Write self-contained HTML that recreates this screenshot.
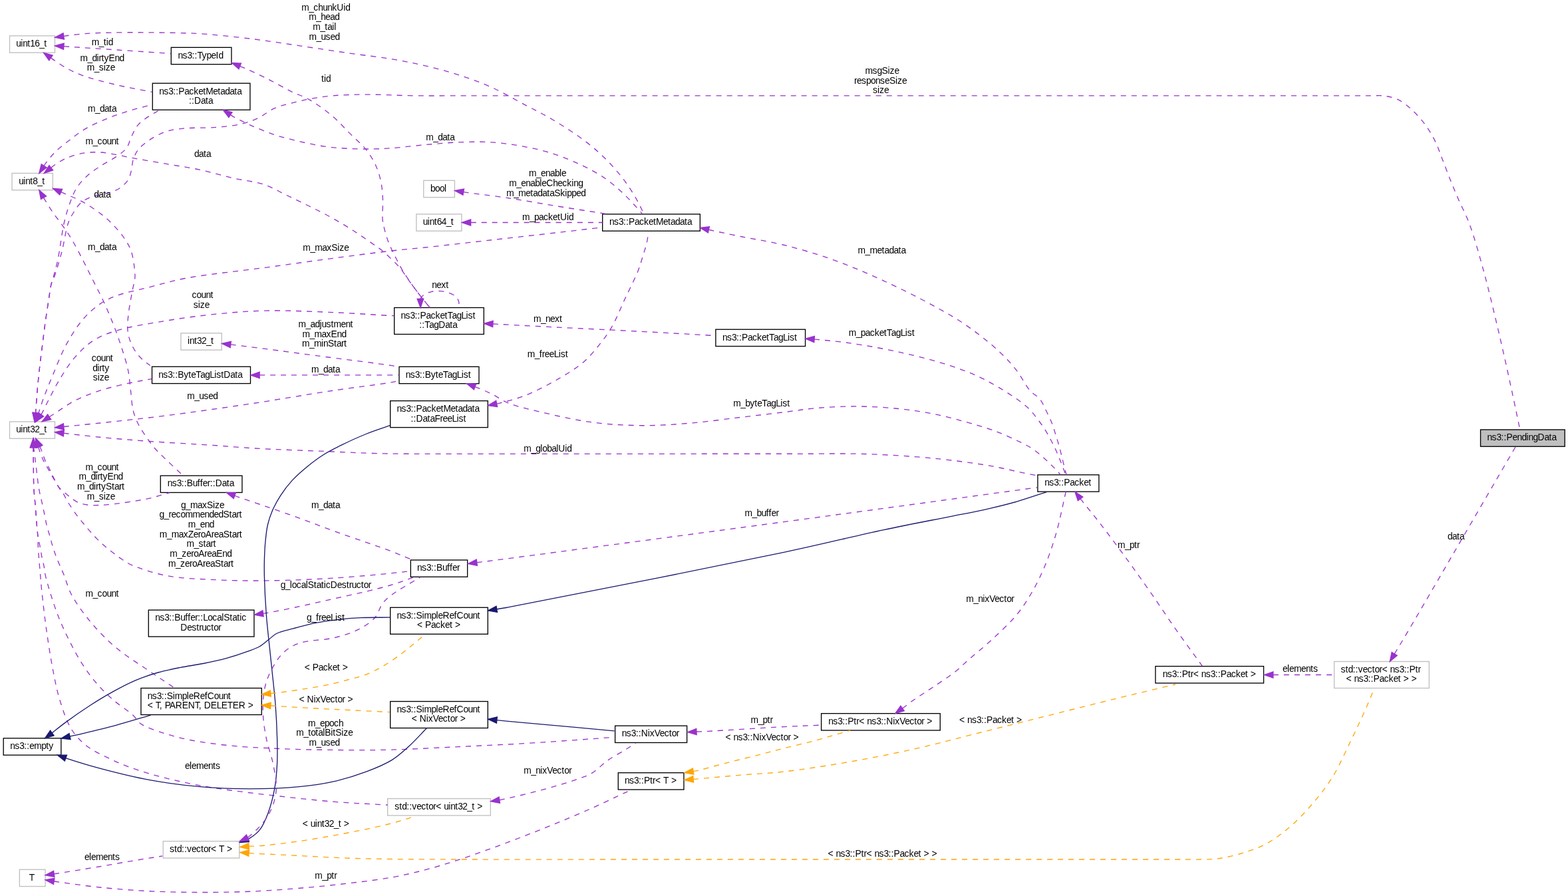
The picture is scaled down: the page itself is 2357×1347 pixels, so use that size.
<!DOCTYPE html>
<html><head><meta charset="utf-8"><title>ns3::PendingData</title>
<style>html,body{margin:0;padding:0;background:#fff}svg{display:block}text{font-family:"Liberation Sans",Arial,Helvetica,sans-serif;font-size:13.8px;fill:#000;white-space:pre}</style></head><body>
<svg xmlns="http://www.w3.org/2000/svg" width="2357" height="1347" viewBox="0 0 2357 1347">
<rect width="2357" height="1347" fill="#fff"/>
<rect x="14.5" y="53.83" width="68" height="25.33" fill="#fff" stroke="#bfbfbf" stroke-width="1.333"/>
<rect x="18.03" y="260.43" width="61.33" height="25.33" fill="#fff" stroke="#bfbfbf" stroke-width="1.333"/>
<rect x="14.5" y="633.93" width="68" height="25.33" fill="#fff" stroke="#bfbfbf" stroke-width="1.333"/>
<rect x="5.17" y="1109.83" width="86.67" height="25.33" fill="#fff" stroke="#000" stroke-width="1.333"/>
<rect x="29.37" y="1307.23" width="38.67" height="25.33" fill="#fff" stroke="#bfbfbf" stroke-width="1.333"/>
<rect x="257.27" y="71.33" width="90.67" height="25.33" fill="#fff" stroke="#000" stroke-width="1.333"/>
<rect x="229.27" y="125.2" width="146.67" height="40" fill="#fff" stroke="#000" stroke-width="1.333"/>
<rect x="271.93" y="500.83" width="61.33" height="25.33" fill="#fff" stroke="#bfbfbf" stroke-width="1.333"/>
<rect x="228.5" y="551.23" width="148" height="25.33" fill="#fff" stroke="#000" stroke-width="1.333"/>
<rect x="241.27" y="715.13" width="122.67" height="25.33" fill="#fff" stroke="#000" stroke-width="1.333"/>
<rect x="223.27" y="917.1" width="158.67" height="40" fill="#fff" stroke="#000" stroke-width="1.333"/>
<rect x="211.93" y="1034.5" width="181.33" height="40" fill="#fff" stroke="#000" stroke-width="1.333"/>
<rect x="245.17" y="1264.63" width="114.67" height="25.33" fill="#fff" stroke="#bfbfbf" stroke-width="1.333"/>
<rect x="636.77" y="271.33" width="46.67" height="25.33" fill="#fff" stroke="#bfbfbf" stroke-width="1.333"/>
<rect x="625.9" y="321.93" width="68" height="25.33" fill="#fff" stroke="#bfbfbf" stroke-width="1.333"/>
<rect x="592.67" y="462.5" width="134.67" height="40" fill="#fff" stroke="#000" stroke-width="1.333"/>
<rect x="600" y="551.33" width="120" height="25.33" fill="#fff" stroke="#000" stroke-width="1.333"/>
<rect x="586.67" y="602.6" width="146.67" height="40" fill="#fff" stroke="#000" stroke-width="1.333"/>
<rect x="617.33" y="841.93" width="85.33" height="25.33" fill="#fff" stroke="#000" stroke-width="1.333"/>
<rect x="586.67" y="913.3" width="146.67" height="40" fill="#fff" stroke="#000" stroke-width="1.333"/>
<rect x="586.67" y="1054.5" width="146.67" height="40" fill="#fff" stroke="#000" stroke-width="1.333"/>
<rect x="582.67" y="1200.63" width="154.67" height="25.33" fill="#fff" stroke="#bfbfbf" stroke-width="1.333"/>
<rect x="905.67" y="321.93" width="146.67" height="25.33" fill="#fff" stroke="#000" stroke-width="1.333"/>
<rect x="924.6" y="1091.13" width="108" height="25.33" fill="#fff" stroke="#000" stroke-width="1.333"/>
<rect x="929.27" y="1161.73" width="98.67" height="25.33" fill="#fff" stroke="#000" stroke-width="1.333"/>
<rect x="1075.87" y="495.23" width="134.67" height="25.33" fill="#fff" stroke="#000" stroke-width="1.333"/>
<rect x="1234.57" y="1072.63" width="178.67" height="25.33" fill="#fff" stroke="#000" stroke-width="1.333"/>
<rect x="1559.9" y="713.83" width="92" height="25.33" fill="#fff" stroke="#000" stroke-width="1.333"/>
<rect x="1736.87" y="1001.63" width="162.67" height="25.33" fill="#fff" stroke="#000" stroke-width="1.333"/>
<rect x="2005.57" y="994.5" width="142.67" height="40" fill="#fff" stroke="#bfbfbf" stroke-width="1.333"/>
<rect x="2225.52" y="645.93" width="126.67" height="25.33" fill="#bfbfbf" stroke="#000" stroke-width="1.333"/>
<path d="M95.87,69.69C113.96,70.89 129.01,71.88 150.13,73.3C179.77,75.3 221.35,78.14 256.97,80.56" fill="none" stroke="#9a32cd" stroke-width="1.333" stroke-dasharray="8,8"/>
<polygon fill="#9a32cd" stroke="#9a32cd" stroke-width="1.333" points="95.56,74.34 82.57,68.8 96.18,65.03"/>
<path d="M76.45,87C78.49,88.44 79.98,89.57 82.57,91.32C86.89,94.23 93.58,99.05 100.08,102.58C107.55,106.63 115.17,110.26 125.11,113.83C138.77,118.75 158.09,123.55 175.15,127.59C192.68,131.75 211.01,134.77 228.94,138.35" fill="none" stroke="#9a32cd" stroke-width="1.333" stroke-dasharray="8,8"/>
<polygon fill="#9a32cd" stroke="#9a32cd" stroke-width="1.333" points="73.76,90.81 65.56,79.31 79.14,83.18"/>
<path d="M95.77,54.38C97.78,54.08 99.09,53.85 101.8,53.5C107.36,52.78 117.93,51.32 127.3,50.6C138.74,49.73 151.85,49.41 165.5,49.1C181.25,48.74 199.43,48.73 216.4,48.8C233.37,48.87 252.2,49.14 267.3,49.5C279.4,49.79 286.88,49.73 300,50.6C319.96,51.92 350.27,55.01 375.32,58.04C400.39,61.08 425.37,65.13 450.38,68.8C475.41,72.47 501.46,76.61 525.45,80.06C547.5,83.23 569.13,85.46 589,88.82C606.72,91.81 622.43,94.88 639.04,98.82C655.79,102.8 672.52,107.21 689.08,112.58C705.89,118.03 722.67,123.98 739.13,131.35C756.05,138.93 773.26,149.18 789.17,157.62C803.73,165.34 816.51,171.38 830.9,180C847.25,189.8 866.9,202.34 881.8,213.9C894.68,223.9 905.63,233.93 915.8,244.5C925.27,254.35 933.87,264.88 941.2,275C947.79,284.1 953.54,293.88 958.2,302.2C961.96,308.92 964.4,314.67 967.5,320.9" fill="none" stroke="#9a32cd" stroke-width="1.333" stroke-dasharray="8,8"/>
<polygon fill="#9a32cd" stroke="#9a32cd" stroke-width="1.333" points="96.44,58.99 82.57,56.29 95.09,49.76"/>
<path d="M66.11,249.29C67.01,247.92 67.49,246.95 68.81,245.18C71.56,241.5 77.15,234.3 82.57,228.92C88.93,222.61 97.25,216.15 105.09,210.16C113.09,204.04 120.97,197.9 130.11,192.64C140.01,186.95 151.69,182.04 162.64,177.63C173.37,173.31 184.16,169.78 195.17,166.37C206.26,162.94 217.68,160.2 228.94,157.12" fill="none" stroke="#9a32cd" stroke-width="1.333" stroke-dasharray="8,8"/>
<polygon fill="#9a32cd" stroke="#9a32cd" stroke-width="1.333" points="70.01,251.85 58.8,260.44 62.21,246.73"/>
<path d="M76.8,252.21C78.72,250.7 80.04,249.38 82.57,247.68C86.76,244.87 93.55,240.48 100.08,237.68C107.52,234.49 116.68,231.62 125.11,230.17C133.36,228.75 141.81,228.51 150.13,228.92C158.49,229.33 166.83,231.22 175.15,232.67C183.51,234.13 190.39,235.84 200.17,237.68C213.98,240.26 233.53,243.51 250.21,246.43C266.89,249.35 283.64,251.66 300.25,255.19C317,258.74 333.87,263.94 350.3,267.7C366.1,271.31 382.93,272.67 397,277.4C409.48,281.59 419.59,288.08 430.9,293.5C442.26,298.95 453.69,304.36 465,310C476.33,315.65 487.85,321.33 498.8,327.4C509.5,333.34 519.8,339.5 530,346C540.2,352.5 551.81,360.7 560,366.4C565.76,370.41 570.04,373.1 574.6,376.8C579.02,380.38 582.9,384.27 587,388.2C591.2,392.23 595.76,396.4 599.5,400.7C603.01,404.75 605.82,408.92 608.9,413.2C612.05,417.58 615.04,422.33 618.2,426.7C621.28,430.96 624.38,434.87 627.6,439.1C630.97,443.53 634.68,448.57 638,452.7C640.88,456.27 643.53,459.23 646.3,462.5" fill="none" stroke="#9a32cd" stroke-width="1.333" stroke-dasharray="8,8"/>
<polygon fill="#9a32cd" stroke="#9a32cd" stroke-width="1.333" points="79.68,255.88 66.31,260.44 73.92,248.54"/>
<path d="M91.72,288.7C92.84,289.2 93.41,289.46 95.08,290.22C100.06,292.47 115.17,298.4 124.7,303.7C134.39,309.1 144.71,316.21 152.7,322.4C159.28,327.5 164.23,331.94 169.7,337.6C175.6,343.71 182.02,351.12 186.7,358C190.89,364.17 194.38,369.78 196.9,376.7C199.67,384.33 201.06,394.59 202,402.1C202.74,407.99 203.2,412.64 202.8,418C202.39,423.6 200.64,428.35 199.4,435C197.65,444.38 194.76,458.46 193.5,469C192.41,478.05 191.3,486.82 191.8,494.4C192.21,500.64 193.32,505.78 195.2,511.3C197.18,517.09 200.31,523.32 203.6,528.3C206.59,532.83 210.08,536.64 213.8,540.2C217.46,543.69 221.73,546.4 225.7,549.5" fill="none" stroke="#9a32cd" stroke-width="1.333" stroke-dasharray="8,8"/>
<polygon fill="#9a32cd" stroke="#9a32cd" stroke-width="1.333" points="89.8,292.95 79.57,283.21 93.64,284.44"/>
<path d="M65.56,297.2C66.64,299.04 67.37,300.39 68.81,302.72C71.4,306.94 76.11,314.53 80.07,320.24C84.03,325.96 88.3,330.94 92.58,337C97.44,343.89 102.59,351.19 107.59,359.52C113.43,369.24 119.57,381.38 125.11,392.04C130.38,402.21 135.11,412.06 140.12,422.06C145.12,432.07 150.28,441.62 155.13,452.09C160.31,463.24 165.53,475.36 170.14,487.11C174.7,498.72 178.89,510.4 182.66,522.14C186.38,533.75 190.35,545.85 192.66,557.16C194.77,567.47 195.17,577.18 196.42,587.19C197.67,597.19 197.98,608.33 200.17,617.21C202.01,624.67 204.46,630.71 207.68,637.22C211.06,644.07 215.88,650.95 220.19,657.24C224.24,663.16 227.96,668.52 232.7,674C237.86,679.96 243.8,685.3 250.21,691.51C257.76,698.83 266.89,707.19 275.23,715.03" fill="none" stroke="#9a32cd" stroke-width="1.333" stroke-dasharray="8,8"/>
<polygon fill="#9a32cd" stroke="#9a32cd" stroke-width="1.333" points="61.54,299.57 58.8,285.71 69.58,294.84"/>
<path d="M360.69,99.49C362.23,100.1 363.07,100.36 365.31,101.33C371.55,104.01 388.54,111.71 400.34,117.59C412.72,123.76 426.24,131.87 437.87,137.6C447.67,142.44 455.94,144.66 465.4,150.11C476.67,156.62 490.05,166.34 500.42,175.13C509.83,183.1 517.11,191.81 525.45,200.15C533.79,208.49 543.61,216.39 550.47,225.17C556.69,233.14 561.69,241.6 565.48,250.19C569.07,258.31 571.32,266.78 572.99,275.2C574.62,283.47 575.11,291.51 575.49,300.22C575.9,309.71 574.34,321.7 575.1,330C575.66,336.07 576.91,340.43 578.2,345.6C579.5,350.83 581.06,356.14 582.9,361.2C584.71,366.17 586.87,370.89 589.1,375.7C591.37,380.59 593.86,385.37 596.4,390.3C599.05,395.43 601.73,400.86 604.7,405.9C607.64,410.89 610.85,415.59 614.1,420.4C617.41,425.29 620.91,430.26 624.4,435C627.81,439.62 631.21,443.99 634.8,448.5C638.5,453.15 642.47,457.83 646.3,462.5" fill="none" stroke="#9a32cd" stroke-width="1.333" stroke-dasharray="8,8"/>
<polygon fill="#9a32cd" stroke="#9a32cd" stroke-width="1.333" points="358.97,103.83 348.3,94.57 362.41,95.15"/>
<path d="M346.46,172.64C347.74,173.47 348.42,174.05 350.3,175.13C354.95,177.79 366.04,183.47 375.32,187.64C386.47,192.65 400.21,198.45 412.85,202.65C425.24,206.76 437.83,209.73 450.38,212.66C462.85,215.56 475.35,218.37 487.91,220.16C500.38,221.94 512.92,222.79 525.45,223.42C537.95,224.04 551.61,224.11 562.98,223.92C572.45,223.75 578.93,223.41 589,222.67C602.99,221.63 622.35,219.12 639.04,217.66C655.71,216.2 672.39,214.53 689.08,213.91C705.75,213.28 722.83,212.85 739.13,213.91C754.81,214.93 769.86,217.09 785.1,219.9C800.46,222.74 816.09,226.18 830.9,230.9C845.48,235.55 860.12,241.66 873.3,247.9C885.45,253.65 897.05,259.76 907.3,266.6C916.68,272.86 925.24,280.23 932.7,286.9C939.11,292.64 944.25,298.16 949.7,303.9C955.01,309.5 959.9,315.23 965,320.9" fill="none" stroke="#9a32cd" stroke-width="1.333" stroke-dasharray="8,8"/>
<polygon fill="#9a32cd" stroke="#9a32cd" stroke-width="1.333" points="343.92,176.55 335.28,165.37 349.01,168.73"/>
<path d="M53.61,620.76C53.58,621.08 53.51,621.7 53.5,621.7C53.42,621.69 55.02,599.02 56,587.7C56.98,576.39 58.14,565.1 59.4,553.8C60.67,542.47 62.18,531.12 63.6,519.8C65.02,508.49 66.34,497.2 67.9,485.9C69.47,474.57 71.34,462.4 73,451.9C74.43,442.81 75.75,432.67 77.2,426.5C78.05,422.87 78.77,421.67 79.8,418C81.66,411.38 84.67,400.94 87,390C90.24,374.84 92.78,350.69 96.33,335.25C99,323.66 101.73,314.41 105.09,305.23C108.08,297.07 110.83,289.47 115.1,282.71C119.23,276.17 124.42,270.53 130.11,265.2C136.04,259.64 142.95,255.01 150.13,250.19C157.88,244.97 168.03,240.23 175.15,235.17C180.97,231.04 186.4,227.71 190.16,222.67C193.88,217.68 194.8,210.91 197.67,205.15C200.62,199.23 203.26,192.76 207.68,187.64C212.32,182.26 219.43,177.74 225.19,173.88C230.26,170.48 235.2,168.21 240.2,165.37" fill="none" stroke="#9a32cd" stroke-width="1.333" stroke-dasharray="8,8"/>
<polygon fill="#9a32cd" stroke="#9a32cd" stroke-width="1.333" points="58.25,621.33 52,634 48.98,620.2"/>
<path d="M53.59,620.73C53.56,621.05 53.51,621.7 53.5,621.7C53.46,621.7 55.02,599.02 56,587.7C56.98,576.39 58.14,565.1 59.4,553.8C60.67,542.47 62.18,531.12 63.6,519.8C65.02,508.49 66.34,497.2 67.9,485.9C69.47,474.57 71.34,462.4 73,451.9C74.43,442.81 75.36,432.62 77.2,426.5C78.31,422.82 79.53,421.94 81,418C84.11,409.65 89.43,391.62 93,378C96.65,364.05 98.87,345.69 102.59,335.25C104.89,328.79 106.99,325.19 110.09,320.24C113.53,314.76 117.52,308.17 122.6,303.98C127.57,299.88 133.76,297.48 140.12,295.22C147.02,292.77 155.7,292.45 162.64,290.22C168.94,288.18 175.08,286.14 180.15,282.71C185.04,279.4 189.73,274.95 192.66,270.2C195.44,265.71 196.41,260.24 197.67,255.19C198.9,250.23 198.58,245.07 200.17,240.18C201.84,235.05 204.03,229.83 207.68,225.17C211.95,219.7 218.53,214.58 225.19,210.16C232.53,205.28 241.66,200.49 250.21,197.65C258.36,194.94 265.42,194.19 275.23,193.14C289.01,191.67 309.82,192.69 325.28,191.39C338.71,190.26 351.68,189.05 362.81,186.39C372.12,184.16 379.68,181.45 387.83,177.63C396.38,173.62 404.27,166.41 412.85,162.62C420.97,159.03 429.29,157.37 437.87,155.12C446.79,152.77 455.63,150.66 465.4,148.86C476.33,146.84 487.68,144.99 500.42,143.86C515.59,142.51 532.42,142.2 550.47,142.11C571.74,141.99 596.01,143.49 620,143.8C645.73,144.13 667.33,143.88 700,143.9C751.66,143.93 826.6,143.9 900,143.9C989.9,143.9 1100,143.9 1200,143.9C1300,143.9 1400,143.9 1500,143.9C1600,143.9 1710.1,143.9 1800,143.9C1873.4,143.9 1952.81,143.9 2000,143.9C2025.84,143.9 2045.13,143.79 2060,143.9C2068.8,143.96 2074.03,143.21 2081,144.2C2088.17,145.22 2095.7,146.81 2102.43,150.11C2109.57,153.62 2116.06,159.24 2122.45,165.12C2129.47,171.57 2136.6,179.65 2142.48,187.64C2148.26,195.51 2153.27,204.15 2157.5,212.66C2161.56,220.84 2164.02,228.78 2167.51,237.68C2171.48,247.8 2175.78,259.6 2180.03,270.2C2184.13,280.44 2188.02,289.77 2192.54,300.22C2197.54,311.78 2203.48,322.21 2208.81,336.5C2216.07,355.95 2223.6,383.5 2230.09,407.05C2236.52,430.37 2242.09,454.16 2247.61,477.1C2252.92,499.16 2257.91,521.12 2262.63,542.15C2267.06,561.91 2271.3,581.65 2275.15,599.69C2278.55,615.69 2281.45,629.9 2284.6,645" fill="none" stroke="#9a32cd" stroke-width="1.333" stroke-dasharray="8,8"/>
<polygon fill="#9a32cd" stroke="#9a32cd" stroke-width="1.333" points="58.24,621.18 52.3,634 48.95,620.28"/>
<path d="M57.8,621.56C57.72,621.78 57.56,622.21 57.55,622.21C57.5,622.19 61.97,608.1 65.06,599.69C69.07,588.72 74.57,575.19 80.07,562.17C86.14,547.78 92.37,531.16 100.08,517.13C107.47,503.72 116.06,490.06 125.11,479.61C132.92,470.57 141.36,463.06 150.13,457.09C158.12,451.64 165.14,448.33 175.15,444.58C188.75,439.48 208.27,435.86 225.19,431.57C242.54,427.17 256.62,422.57 278,418.5C310.21,412.37 361.61,407.31 400.34,402.05C435.38,397.28 468.07,392.57 500.42,388.29C530.84,384.26 563.64,379.91 589,377.03C608.03,374.87 619.51,374.1 639.04,372.03C666.69,369.09 705.77,364.52 739.13,360.77C772.49,357.01 810.09,352.85 839.21,349.51C861.77,346.92 879.25,344.84 899.26,342.5" fill="none" stroke="#9a32cd" stroke-width="1.333" stroke-dasharray="8,8"/>
<polygon fill="#9a32cd" stroke="#9a32cd" stroke-width="1.333" points="62.15,623.24 53,634 53.45,619.88"/>
<path d="M61.83,623.21C62.07,622.88 62.21,622.78 62.55,622.21C64.02,619.8 68.7,609.64 72.56,602.2C77.53,592.63 83.54,580.33 90.08,569.67C96.84,558.64 104.1,546.85 112.6,537.15C120.84,527.74 129.77,518.78 140.12,512.13C150.59,505.4 161,501.51 175.15,497.12C195.2,490.89 225.12,486.28 250.21,482.11C275.17,477.95 300.21,474.6 325.28,472.1C350.26,469.61 373.51,467.65 400.34,467.1C431.29,466.45 468.09,468.28 500.42,469.6C530.86,470.84 579.5,474.33 589,474.6C590.82,474.65 591.17,474.6 592.25,474.6" fill="none" stroke="#9a32cd" stroke-width="1.333" stroke-dasharray="8,8"/>
<polygon fill="#9a32cd" stroke="#9a32cd" stroke-width="1.333" points="65.61,625.95 54,634 58.05,620.47"/>
<path d="M74.19,626.75C77.82,624.41 80.61,622.57 85.07,619.71C92.15,615.17 102.44,607.4 112.6,602.2C123.9,596.41 136.56,591.57 150.13,587.19C165.46,582.23 185.85,577.74 200.17,574.68C210.81,572.4 218.85,571.34 228.19,569.67" fill="none" stroke="#9a32cd" stroke-width="1.333" stroke-dasharray="8,8"/>
<polygon fill="#9a32cd" stroke="#9a32cd" stroke-width="1.333" points="76.73,630.67 63,634 71.66,622.84"/>
<path d="M95.84,641.4C97.25,641.26 97.89,641.19 100.08,640.98C107.61,640.22 130.59,638.05 150.13,635.97C177.77,633.03 215.02,629.15 250.21,624.71C289.62,619.74 333.65,613.45 375.32,607.2C417.05,600.94 462.29,592.93 500.42,587.19C532.47,582.36 573.91,577.53 589,574.68C594.25,573.68 596.01,573.01 599.51,572.17" fill="none" stroke="#9a32cd" stroke-width="1.333" stroke-dasharray="8,8"/>
<polygon fill="#9a32cd" stroke="#9a32cd" stroke-width="1.333" points="96.3,646.04 82.57,642.73 95.37,636.76"/>
<path d="M95.82,651.25C97.24,651.41 97.88,651.49 100.08,651.73C107.63,652.58 131.75,655.46 150.13,657.24C172.61,659.41 198.36,661.54 225.19,663.49C256.15,665.75 296.51,667.78 325.28,669.75C347.1,671.24 360.24,672.69 382.82,674C415.08,675.88 467.83,677.63 500.42,679C523.63,679.98 540.1,680.95 560,681.5C579.96,682.05 594.64,682.13 620,682.3C663.92,682.59 738.42,682.3 800,682.3C864.91,682.3 933.33,682.3 1000,682.3C1066.67,682.3 1144.77,682.24 1200,682.3C1239.05,682.34 1266.42,681.41 1300,682.5C1334.14,683.61 1370.74,685.87 1403.19,689.01C1432.33,691.83 1466.69,696.61 1485.9,699.8C1496.27,701.52 1501.78,702.92 1509.7,704.6C1517.64,706.28 1525.39,708.18 1533.5,709.9C1541.94,711.69 1550.77,713.37 1559.4,715.1" fill="none" stroke="#9a32cd" stroke-width="1.333" stroke-dasharray="8,8"/>
<polygon fill="#9a32cd" stroke="#9a32cd" stroke-width="1.333" points="95.29,655.88 82.57,649.73 96.35,646.61"/>
<path d="M59.72,671.34C60.38,672.73 60.91,673.62 61.7,675.5C63.27,679.21 65.73,687.22 68,692.4C70.03,697.02 72.38,700.88 74.5,705.2C76.65,709.58 78.45,713.98 80.8,718.5C83.34,723.4 86.05,729.47 89.3,733.5C92.04,736.89 95.79,739.34 98.4,741.6C100.33,743.27 101.34,744.26 103.5,745.9C106.9,748.48 112.3,753.01 117.1,755.2C121.66,757.29 126.46,758.27 131.5,759C136.89,759.78 142.53,759.65 148.5,759.5C155.18,759.33 162.32,758.59 169.7,757.8C177.82,756.93 186.37,755.77 195.2,754.4C204.81,752.9 215.25,751.34 225.19,749.06C235.25,746.74 245.21,743.38 255.22,740.55" fill="none" stroke="#9a32cd" stroke-width="1.333" stroke-dasharray="8,8"/>
<polygon fill="#9a32cd" stroke="#9a32cd" stroke-width="1.333" points="55.51,673.35 54,659.3 63.94,669.34"/>
<path d="M57.58,672C57.95,673.16 58.13,673.91 58.7,675.5C59.96,679.04 62.85,687.24 65.3,692.4C67.5,697.05 70.03,700.81 72.5,705.2C75.12,709.86 77.72,714.67 80.6,719.6C83.7,724.91 87.61,731.68 90.5,736C92.49,738.98 94.39,740.84 95.9,743.3C97.28,745.55 98,747.74 99.3,750.1C100.78,752.78 102.33,755.28 104.4,758.5C107.32,763.03 111.71,769.62 115.4,774.6C118.78,779.15 122.17,783.16 125.6,787.3C128.97,791.36 132.3,795.27 135.8,799.2C139.36,803.2 142.98,807.28 146.8,811.1C150.62,814.92 154.67,818.65 158.7,822.1C162.6,825.44 166.54,828.41 170.6,831.5C174.74,834.65 178.86,837.87 183.3,840.8C187.88,843.82 191.17,846.42 197.7,849.3C209.53,854.52 230.92,861.68 250.2,865.4C272.79,869.76 300.25,870.45 325.3,871.7C350.29,872.95 373.5,873.18 400.3,872.9C431.27,872.58 468.07,871.16 500.4,869.2C530.86,867.35 567.93,863.79 589,861.7C600.71,860.54 607.2,859.63 616.3,858.6" fill="none" stroke="#9a32cd" stroke-width="1.333" stroke-dasharray="8,8"/>
<polygon fill="#9a32cd" stroke="#9a32cd" stroke-width="1.333" points="53.13,673.42 53.5,659.3 62.02,670.57"/>
<path d="M50.51,672.63C50.51,672.42 50.48,672 50.5,672C50.66,671.99 53.76,698.12 55.2,709.4C56.39,718.71 57.12,727.02 58.5,734.9C59.71,741.81 61.39,747.74 62.8,754.2C64.22,760.71 65.69,767.5 67,773.8C68.21,779.64 69.06,785.31 70.4,790.7C71.65,795.75 73.3,800.3 74.7,805.2C76.13,810.2 77.36,815.35 78.9,820.4C80.46,825.51 82.15,830.71 84,835.7C85.82,840.6 87.89,845.38 89.9,850.1C91.86,854.71 93.65,858.23 95.9,863.7C99.24,871.81 101.92,883.56 107.6,894.2C114.77,907.62 126.41,923.41 137.6,936.7C148.92,950.13 161.21,962.56 175.2,974.3C190.19,986.88 209.68,998.66 225.2,1009.3C238.55,1018.46 250.2,1026.1 262.7,1034.5" fill="none" stroke="#9a32cd" stroke-width="1.333" stroke-dasharray="8,8"/>
<polygon fill="#9a32cd" stroke="#9a32cd" stroke-width="1.333" points="45.84,672.71 50.3,659.3 55.18,672.56"/>
<path d="M50,672.63C50,672.42 50,672 50,672C50.02,672 50.16,690.15 50.3,700C50.45,711.02 50.38,725.08 50.9,735C51.29,742.36 52.05,747.63 52.6,754.2C53.18,761.11 53.78,768.81 54.3,775.5C54.77,781.46 55.13,787.16 55.6,792.4C56.01,796.97 56.23,800.65 56.9,805.2C57.68,810.46 59.18,816.68 60.2,822.1C61.14,827.11 61.82,831.72 62.8,836.6C63.81,841.62 65.32,847.06 66.2,851.8C66.96,855.91 66.9,858.66 67.9,863.4C69.55,871.2 73.15,883.51 76.4,893.9C79.86,904.98 83.73,916.67 88.2,927.9C92.74,939.31 97.9,950.6 103.5,961.8C109.22,973.24 115.34,984.98 122.2,995.8C128.96,1006.46 136.28,1016.88 144.3,1026.3C152.14,1035.51 160.56,1043.73 169.7,1051.8C179.18,1060.17 192.83,1068.55 200.3,1075.5C205.22,1080.08 206.04,1084.18 211.5,1088C220.08,1094 237.02,1099.21 250,1103.4C262.7,1107.5 275.61,1110.43 288.5,1113C301.25,1115.55 314.07,1117.2 326.9,1118.8C339.7,1120.4 352.9,1121.64 365.4,1122.6C377.23,1123.51 387.38,1123.89 400,1124.5C415.22,1125.24 431.93,1126.09 450.4,1126.6C472.92,1127.22 501.43,1127.53 525.4,1127.6C547.47,1127.66 565.41,1127.72 589,1127.1C618.61,1126.32 655.74,1124.18 689.1,1122.6C722.47,1121.02 758.24,1119.4 789.2,1117.6C816.01,1116.04 840.67,1114.24 864.2,1112.6C885.13,1111.14 903.73,1109.73 923.5,1108.3" fill="none" stroke="#9a32cd" stroke-width="1.333" stroke-dasharray="8,8"/>
<polygon fill="#9a32cd" stroke="#9a32cd" stroke-width="1.333" points="45.33,672.6 50.1,659.3 54.66,672.67"/>
<path d="M50,672.63C50,672.42 50,672 50,672C50.01,672 50.16,690.15 50.3,700C50.45,711.02 50.38,725.08 50.9,735C51.29,742.36 52.05,747.63 52.6,754.2C53.18,761.11 53.78,768.81 54.3,775.5C54.77,781.46 55.13,787.16 55.6,792.4C56.01,796.97 56.61,800.63 56.9,805.2C57.23,810.44 57.03,816.46 57.3,822.1C57.57,827.76 58.07,833.58 58.5,839.1C58.91,844.34 59.28,848.36 59.8,854.4C60.55,863.18 61.31,874.18 62.6,886.7C64.4,904.14 67.16,928.54 70.1,949.2C73.01,969.64 76.65,992.21 80.1,1010C82.83,1024.05 84.86,1034.87 88.5,1047.5C92.35,1060.86 97.58,1077.24 102.9,1088C106.79,1095.86 110.33,1101.27 115.4,1107.2C120.78,1113.5 127.18,1119.3 134.6,1124.5C142.95,1130.35 153.78,1135.21 163.5,1139.9C173.02,1144.49 181.9,1148.47 192.3,1152.4C204.11,1156.87 217.91,1161.2 230.8,1164.9C243.55,1168.56 256.36,1171.61 269.2,1174.5C281.99,1177.38 294.84,1179.95 307.7,1182.2C320.51,1184.44 332.28,1186.09 346.2,1188C362.62,1190.26 379.28,1192.33 400,1194.7C428.28,1197.94 468.54,1202.57 500.4,1205.2C529.25,1207.58 555.47,1208.53 583,1210.2" fill="none" stroke="#9a32cd" stroke-width="1.333" stroke-dasharray="8,8"/>
<polygon fill="#9a32cd" stroke="#9a32cd" stroke-width="1.333" points="45.33,672.63 50,659.3 54.67,672.63"/>
<path d="M346.77,517.96C347.95,518.1 348.44,518.16 350.3,518.38C357.3,519.24 381.98,522.27 400.34,524.64C422.84,527.54 447.8,530.98 475.4,534.65C509.36,539.15 571.36,546.81 589,549.66C594.39,550.53 596.01,550.99 599.51,551.66" fill="none" stroke="#9a32cd" stroke-width="1.333" stroke-dasharray="8,8"/>
<polygon fill="#9a32cd" stroke="#9a32cd" stroke-width="1.333" points="346.22,522.6 333.53,516.38 347.33,513.33"/>
<path d="M390.15,563.92C410.23,563.92 425.83,563.92 450.38,563.92C489.01,563.92 549.8,563.92 599.51,563.92" fill="none" stroke="#9a32cd" stroke-width="1.333" stroke-dasharray="8,8"/>
<polygon fill="#9a32cd" stroke="#9a32cd" stroke-width="1.333" points="390.15,568.59 376.82,563.92 390.15,559.25"/>
<path d="M352.79,745.19C354.46,745.81 355.31,746.16 357.8,747.05C365.04,749.63 385.6,756.47 400.34,761.56C416.35,767.1 433.73,773.04 450.38,779.08C467.1,785.14 483.71,791.78 500.42,797.84C517.07,803.88 534.88,809.85 550.47,815.35C564.16,820.19 577.28,824.63 589,829.12C598.99,832.94 607.35,836.62 616.52,840.37" fill="none" stroke="#9a32cd" stroke-width="1.333" stroke-dasharray="8,8"/>
<polygon fill="#9a32cd" stroke="#9a32cd" stroke-width="1.333" points="351.16,749.57 340.29,740.55 354.41,740.82"/>
<path d="M395.53,922.35C397.13,922.13 397.9,922.1 400.34,921.68C408.24,920.35 433.72,915.22 450.38,911.68C467.08,908.13 483.74,904.17 500.42,900.42C517.11,896.67 534.9,892.93 550.47,889.16C564.18,885.84 576.77,882.85 589,879.15C600.37,875.71 610.69,871.65 621.53,867.89" fill="none" stroke="#9a32cd" stroke-width="1.333" stroke-dasharray="8,8"/>
<polygon fill="#9a32cd" stroke="#9a32cd" stroke-width="1.333" points="396.17,926.97 382.32,924.19 394.89,917.73"/>
<path d="M372.61,1261.31C373.52,1260.94 374.13,1260.91 375.32,1260.19C378.39,1258.32 386.02,1253.12 390.33,1247.68C395.49,1241.16 399.29,1232.04 402.84,1222.66C407.03,1211.6 410.56,1197.73 412.85,1185.13C415.11,1172.71 415.98,1160.13 416.6,1147.6C417.23,1135.11 416.94,1123.48 416.6,1110.07C416.22,1094.59 415.35,1076.7 414.1,1060.04C412.85,1043.34 410.66,1025.28 409.1,1010C407.77,997.07 406.67,987.15 405.34,974.22C403.78,958.94 401.64,941.46 400.34,924.19C398.94,905.7 397.79,881.88 397.4,866.7C397.15,856.76 397.18,850.38 397.4,842C397.63,833.32 397.97,824.32 398.8,815.5C399.63,806.65 400.49,797.26 402.4,789C404.14,781.45 406.35,774.88 409.4,767.8C412.7,760.14 416.95,752.27 421.8,744.8C426.91,736.94 433.01,728.97 439.5,721.9C445.98,714.84 453.05,708.69 460.7,702.4C468.87,695.69 478.16,688.67 487.2,683C495.84,677.58 504.15,673.58 513.7,668.9C524.54,663.58 536.99,657.85 549,653C561.12,648.11 573.73,644.13 586.1,639.7" fill="none" stroke="#191970" stroke-width="1.333"/>
<polygon fill="#191970" stroke="#191970" stroke-width="1.333" points="374.41,1265.62 360.31,1266.44 370.82,1257"/>
<path d="M372.42,1259.12C372.55,1259.06 372.61,1259.07 372.82,1258.93C374.24,1257.99 383.2,1250.02 387.83,1245.17C392.36,1240.42 396.68,1235.76 400.34,1230.16C404.26,1224.17 407.87,1217.37 410.35,1210.15C412.99,1202.44 415.05,1194.34 415.35,1185.13C415.72,1173.91 412.82,1160.03 410.35,1147.6C407.84,1135.01 402.85,1122.66 400.34,1110.07C397.86,1097.64 395.75,1085.08 395.34,1072.55C394.92,1060.06 395.57,1046.13 397.84,1035.02C399.74,1025.69 402.45,1018.33 406.6,1010C411.28,1000.57 417.68,989.06 425.36,981.73C432.48,974.93 440.17,970.38 450.38,966.72C463.82,961.89 485.09,962.89 500.42,959.21C513.99,955.96 527.05,952.19 537.96,946.7C547.54,941.88 556.62,936.24 562.98,929.19C568.82,922.71 570.69,912.78 575.49,906.67C579.54,901.51 582.95,898.77 589,894.16C598.97,886.58 617.36,876.65 631.54,867.89" fill="none" stroke="#9a32cd" stroke-width="1.333" stroke-dasharray="8,8"/>
<polygon fill="#9a32cd" stroke="#9a32cd" stroke-width="1.333" points="374.37,1263.36 360.31,1264.69 370.47,1254.88"/>
<path d="M78.35,1102C78.09,1102.19 77.57,1102.58 77.57,1102.57C77.53,1102.52 89.09,1093.05 96.7,1087.4C107.33,1079.52 123.1,1068.51 135.8,1060.3C147.38,1052.81 158.28,1046.19 169.7,1039.9C180.88,1033.74 192.13,1027.76 203.6,1022.9C214.78,1018.17 226.18,1014.27 237.6,1011C248.82,1007.79 260.16,1005.65 271.5,1003.4C282.8,1001.15 294.2,999.76 305.5,997.5C316.84,995.23 328.16,992.89 339.4,989.8C350.8,986.67 364.13,982.19 373.4,978.8C379.97,976.4 384.91,974.89 390,972C394.95,969.19 399.23,965.14 403.6,961.8C407.72,958.65 410.49,955.09 415.5,952.5C422.14,949.07 431.79,947.4 440.9,944.9C451.38,942.02 463.52,938.67 474.9,936.4C486.15,934.15 497.48,932.58 508.8,931.3C520.08,930.02 530.68,929.23 542.7,928.7C556.31,928.1 571.77,928.37 586.3,928.2" fill="none" stroke="#191970" stroke-width="1.333"/>
<polygon fill="#191970" stroke="#191970" stroke-width="1.333" points="81.09,1105.78 67.56,1109.82 75.61,1098.22"/>
<path d="M105.08,1107.12C111.76,1105.6 116.94,1104.52 125.11,1102.57C138.05,1099.48 158.41,1094.6 175.15,1090.06C192.19,1085.44 209.34,1080.05 226.44,1075.05" fill="none" stroke="#191970" stroke-width="1.333"/>
<polygon fill="#191970" stroke="#191970" stroke-width="1.333" points="106.11,1111.67 92.08,1110.07 104.05,1102.57"/>
<path d="M98.85,1139.65C99.26,1139.8 99.37,1139.86 100.08,1140.1C104.6,1141.59 131.68,1150.19 150.13,1155.11C172.54,1161.08 200.06,1168.02 225.19,1172.62C250.1,1177.18 275.18,1180.42 300.25,1182.63C325.23,1184.83 350.3,1185.88 375.32,1185.88C400.34,1185.88 427.94,1184.79 450.38,1182.63C468.8,1180.85 483.88,1178.83 500.42,1175.12C517.24,1171.36 535.06,1165.9 550.47,1160.11C564.34,1154.91 577.9,1149.41 589,1142.6C598.66,1136.67 605.71,1130.09 614.02,1122.58C623.23,1114.27 632.37,1103.9 641.54,1094.56" fill="none" stroke="#191970" stroke-width="1.333"/>
<polygon fill="#191970" stroke="#191970" stroke-width="1.333" points="97.26,1144.03 86.32,1135.09 100.45,1135.26"/>
<path d="M406.86,1042.57C407.48,1042.51 407.79,1042.49 408.7,1042.4C411.31,1042.13 417.84,1041.49 423.9,1040.7C432.99,1039.51 446.59,1037.43 457.9,1035.6C469.22,1033.77 480.53,1032.09 491.8,1029.7C503.17,1027.29 515.32,1024.08 525.8,1021.2C534.91,1018.7 542.86,1016.89 551.2,1013.6C559.84,1010.18 568.36,1005.74 576.7,1000.9C585.34,995.89 594.58,989.41 602.1,983.9C608.44,979.25 613.6,974.78 619.1,970.3C624.35,966.02 629.3,961.83 634.4,957.6" fill="none" stroke="#ffa500" stroke-width="1.333" stroke-dasharray="8,8"/>
<polygon fill="#ffa500" stroke="#ffa500" stroke-width="1.333" points="407.29,1047.21 393.58,1043.78 406.44,1037.92"/>
<path d="M406.89,1060.9C408.88,1061.03 409.81,1061.1 412.85,1061.29C422.69,1061.9 455.71,1063.96 475.4,1065.04C493.01,1066.01 508.01,1066.67 525.45,1067.54C544.55,1068.5 565.48,1069.54 585.5,1070.54" fill="none" stroke="#ffa500" stroke-width="1.333" stroke-dasharray="8,8"/>
<polygon fill="#ffa500" stroke="#ffa500" stroke-width="1.333" points="406.59,1065.56 393.58,1060.04 407.19,1056.24"/>
<path d="M374.09,1272.3C374.5,1272.27 374.68,1272.23 375.32,1272.19C377.51,1272.06 383.51,1272.19 390,1271.7C402.91,1270.72 428.5,1267.63 447.7,1264.9C466.97,1262.16 486.19,1258.81 505.4,1255.3C524.66,1251.78 545.86,1247.67 563.1,1243.8C577.24,1240.63 590.37,1237.44 601.5,1234.2C610.23,1231.66 616.9,1229.07 624.6,1226.5" fill="none" stroke="#ffa500" stroke-width="1.333" stroke-dasharray="8,8"/>
<polygon fill="#ffa500" stroke="#ffa500" stroke-width="1.333" points="374.49,1276.95 360.81,1273.45 373.69,1267.65"/>
<path d="M374.09,1282.6C374.5,1282.63 374.59,1282.65 375.32,1282.7C380.99,1283.09 425.36,1285.2 450.38,1286.46C475.4,1287.71 501.46,1289.37 525.45,1290.21C547.51,1290.98 564.88,1291.16 589,1291.46C620.87,1291.85 653.99,1291.89 700,1292C775.64,1292.18 900,1292 1000,1292C1100,1292 1200,1292 1300,1292C1400,1292 1514.54,1292 1600,1292C1663.76,1292 1731.19,1292.02 1767,1292C1783.98,1291.99 1793.3,1292.19 1804.55,1291.96C1813.74,1291.77 1820.45,1292.14 1829.58,1290.96C1840.89,1289.5 1854.77,1286.5 1867.13,1282.7C1879.81,1278.8 1892.57,1274.41 1904.68,1267.69C1917.66,1260.49 1930.18,1250.84 1942.22,1240.17C1955.3,1228.59 1968.9,1213.4 1979.77,1200.14C1989.4,1188.4 1996.94,1178.17 2004.8,1165.12C2013.77,1150.23 2022.04,1131.12 2029.83,1115.08C2036.97,1100.37 2043.65,1086.38 2049.86,1072.55C2055.69,1059.57 2060.71,1047.19 2066.13,1034.52" fill="none" stroke="#ffa500" stroke-width="1.333" stroke-dasharray="8,8"/>
<polygon fill="#ffa500" stroke="#ffa500" stroke-width="1.333" points="373.69,1287.25 360.81,1281.45 374.49,1277.95"/>
<path d="M81.25,1313.79C82.52,1313.6 83.02,1313.54 85.07,1313.22C93.54,1311.92 129.87,1306.12 150.13,1302.72C167.91,1299.73 184.01,1296.66 200.17,1293.96C215.31,1291.43 229.53,1289.29 244.21,1286.96" fill="none" stroke="#9a32cd" stroke-width="1.333" stroke-dasharray="8,8"/>
<polygon fill="#9a32cd" stroke="#9a32cd" stroke-width="1.333" points="81.93,1318.4 68.06,1315.73 80.57,1309.17"/>
<path d="M81.22,1324.86C82.5,1325.07 83,1325.18 85.07,1325.48C93.56,1326.72 127.63,1331.66 150.13,1333.99C174.22,1336.49 200.15,1338.49 225.19,1339.74C250.2,1340.99 275.23,1341.41 300.25,1341.5C325.28,1341.58 350.31,1341.29 375.32,1340.24C400.35,1339.2 425.38,1337.32 450.38,1335.24C475.42,1333.16 501.49,1330.58 525.45,1327.74C547.54,1325.11 569.15,1322.57 589,1318.98C606.75,1315.77 622.44,1312.07 639.04,1307.72C655.8,1303.33 672.46,1298.11 689.08,1292.71C705.83,1287.27 722.48,1281.23 739.13,1275.2C755.84,1269.14 772.52,1262.88 789.17,1256.43C805.89,1249.96 822.57,1243.28 839.21,1236.42C855.93,1229.52 873.83,1222.03 889.25,1215.15C902.72,1209.15 915.87,1202.74 926.79,1197.64C935.25,1193.69 941.8,1190.63 949.31,1187.13" fill="none" stroke="#9a32cd" stroke-width="1.333" stroke-dasharray="8,8"/>
<polygon fill="#9a32cd" stroke="#9a32cd" stroke-width="1.333" points="80.47,1329.47 68.06,1322.73 81.97,1320.25"/>
<path d="M696.73,288.65C698.35,288.92 699.06,289.09 701.6,289.46C710.68,290.82 742.38,294.47 764.15,297.72C788.06,301.29 814.5,306.22 839.21,310.23C863.28,314.14 886.75,317.74 910.52,321.49" fill="none" stroke="#9a32cd" stroke-width="1.333" stroke-dasharray="8,8"/>
<polygon fill="#9a32cd" stroke="#9a32cd" stroke-width="1.333" points="695.97,293.26 683.58,286.46 697.5,284.05"/>
<path d="M707.67,334.5C734.84,334.5 759.59,334.5 789.17,334.5C824.51,334.5 866.74,334.5 905.52,334.5" fill="none" stroke="#9a32cd" stroke-width="1.333" stroke-dasharray="8,8"/>
<polygon fill="#9a32cd" stroke="#9a32cd" stroke-width="1.333" points="707.67,339.16 694.34,334.5 707.67,329.83"/>
<path d="M740.94,486.97C742,487.01 742.33,487.02 744.13,487.11C753.95,487.59 805.35,490.38 839.21,492.12C878.06,494.11 923.83,496.22 964.32,498.37C1002.52,500.4 1038.55,502.54 1075.66,504.62" fill="none" stroke="#9a32cd" stroke-width="1.333" stroke-dasharray="8,8"/>
<polygon fill="#9a32cd" stroke="#9a32cd" stroke-width="1.333" points="740.73,491.63 727.62,486.36 741.15,482.3"/>
<path d="M746.68,606.98C748.33,606.64 749.23,606.56 751.64,605.95C758.33,604.25 776,599.91 789.17,594.69C804.91,588.45 823.98,578.51 839.21,569.67C852.89,561.74 865.98,553.92 876.74,544.65C886.52,536.24 894.42,526.32 901.77,517.13C908.42,508.81 913.65,501.83 919.28,492.12C926.27,480.06 932.66,463.74 939.3,449.58C945.9,435.5 954.2,419.58 959,407.4C962.51,398.49 964.43,390.96 966.7,383.7C968.61,377.58 970.4,372.58 971.8,366.7C973.27,360.54 974.07,353.9 975.2,347.5" fill="none" stroke="#9a32cd" stroke-width="1.333" stroke-dasharray="8,8"/>
<polygon fill="#9a32cd" stroke="#9a32cd" stroke-width="1.333" points="747.63,611.55 733.62,609.7 745.72,602.41"/>
<path d="M714.04,581.48C715.73,582.13 716.87,582.51 719.11,583.43C723.59,585.28 732.16,588.76 739.13,592.19C747.09,596.11 754.09,601.87 764.15,605.95C777.71,611.45 795.74,615.33 814.19,619.71C836.6,625.02 864.12,631.38 889.25,634.72C914.17,638.03 939.29,639.52 964.32,639.72C989.33,639.93 1014.4,638.05 1039.38,635.97C1064.44,633.89 1090.47,630.03 1114.45,627.22C1136.51,624.63 1158.08,622.13 1178,619.71C1195.68,617.56 1210.4,614.91 1228.04,613.46C1247.7,611.84 1269.75,610.75 1290.6,610.95C1311.45,611.16 1333.5,612.65 1353.15,614.71C1370.8,616.56 1386.59,618.9 1403.19,622.21C1419.95,625.56 1438.59,630.7 1453.23,634.72C1464.83,637.91 1475.09,640.99 1484.2,644C1491.52,646.42 1497.01,648.34 1503.8,651.1C1511.38,654.18 1520.07,658.27 1527.5,661.8C1534.22,664.99 1540.5,667.69 1546.5,671.3C1552.39,674.84 1558.22,679.19 1563.2,683.2C1567.59,686.73 1571.31,690.4 1575,693.9C1578.4,697.12 1581.44,700.16 1584.6,703.4C1587.8,706.69 1590.93,710.13 1594.1,713.5" fill="none" stroke="#9a32cd" stroke-width="1.333" stroke-dasharray="8,8"/>
<polygon fill="#9a32cd" stroke="#9a32cd" stroke-width="1.333" points="712.36,585.83 701.6,576.68 715.72,577.12"/>
<path d="M1065.41,345.38C1066.75,345.67 1067.35,345.81 1069.41,346.26C1076.3,347.74 1098.13,352.44 1114.45,355.76C1133.8,359.71 1156.07,362.84 1178,368.27C1202.12,374.25 1228.27,381.93 1253.06,390.79C1278.32,399.81 1303.3,410.7 1328.13,422.06C1353.35,433.61 1380.91,447.36 1403.19,459.59C1421.77,469.79 1436.93,478.27 1453.23,489.61C1470.32,501.49 1489.85,517.04 1503.28,529.64C1513.51,539.25 1520.75,547.49 1528.3,557.16C1535.74,566.69 1541.61,579.61 1548.31,587.19C1553.26,592.78 1559.15,594.94 1563.2,600C1567.3,605.13 1569.72,611.83 1572.7,617.8C1575.64,623.69 1578.62,629.59 1581,635.6C1583.33,641.49 1584.97,647.34 1586.9,653.5C1588.94,660.02 1591.09,667.05 1592.9,673.7C1594.64,680.11 1596.13,686.83 1597.6,692.7C1598.87,697.78 1600.19,703.07 1601.2,706.9C1601.89,709.52 1602.4,711.3 1603,713.5" fill="none" stroke="#9a32cd" stroke-width="1.333" stroke-dasharray="8,8"/>
<polygon fill="#9a32cd" stroke="#9a32cd" stroke-width="1.333" points="1064.41,349.93 1052.39,342.5 1066.42,340.82"/>
<path d="M1224.08,510.09C1225.4,510.19 1225.98,510.19 1228.04,510.38C1235.37,511.05 1259.77,513.2 1278.08,515.88C1300.63,519.18 1328.24,524.05 1353.15,529.64C1378.28,535.29 1405.92,542.26 1428.21,549.66C1446.78,555.82 1461.86,561.53 1478.25,569.67C1495.39,578.18 1516.38,591.4 1528.7,600C1536.38,605.35 1541.37,609.28 1546.5,614.3C1551.12,618.83 1554.53,623.5 1558.4,628.5C1562.47,633.74 1566.69,639.46 1570.3,645.1C1573.8,650.57 1576.93,656.42 1579.8,661.8C1582.41,666.69 1584.71,671.22 1586.9,676C1589.07,680.72 1591.04,685.74 1592.9,690.3C1594.59,694.44 1596.1,698.28 1597.6,702.2C1599.06,706.01 1600.4,709.73 1601.8,713.5" fill="none" stroke="#9a32cd" stroke-width="1.333" stroke-dasharray="8,8"/>
<polygon fill="#9a32cd" stroke="#9a32cd" stroke-width="1.333" points="1223.74,514.75 1210.78,509.13 1224.41,505.44"/>
<path d="M716.82,845.7C724.26,844.76 727,844.45 739.13,842.88C792.95,835.89 1036.86,803.54 1178,784.58C1309.59,766.91 1432.22,750.06 1559.32,732.79" fill="none" stroke="#9a32cd" stroke-width="1.333" stroke-dasharray="8,8"/>
<polygon fill="#9a32cd" stroke="#9a32cd" stroke-width="1.333" points="717.41,850.33 703.6,847.38 716.24,841.07"/>
<path d="M746.78,915.77C752.57,914.83 754.56,914.67 764.15,912.93C811.08,904.4 1074.39,852.35 1178,830.37C1240.56,817.09 1283.09,806.16 1328.13,796.59C1364.81,788.8 1400.57,782.1 1428.21,776.58C1447.76,772.67 1461.62,770.31 1478.25,766.57C1494.98,762.81 1512.13,758.68 1528.3,754.06C1543.78,749.63 1558.32,744.39 1573.34,739.55" fill="none" stroke="#191970" stroke-width="1.333"/>
<polygon fill="#191970" stroke="#191970" stroke-width="1.333" points="747.54,920.38 733.62,917.93 746.03,911.17"/>
<path d="M746.89,1082.61C752.64,1083.17 755.49,1083.49 764.15,1084.31C790.45,1086.8 870.41,1093.98 923.53,1098.82" fill="none" stroke="#191970" stroke-width="1.333"/>
<polygon fill="#191970" stroke="#191970" stroke-width="1.333" points="746.44,1087.25 733.62,1081.3 747.35,1077.96"/>
<path d="M1046.95,1100.03C1052.77,1099.79 1056.05,1099.73 1064.4,1099.32C1085.73,1098.25 1146.71,1094.19 1178,1092.56C1200.02,1091.42 1215.53,1090.89 1234.3,1090.06" fill="none" stroke="#9a32cd" stroke-width="1.333" stroke-dasharray="8,8"/>
<polygon fill="#9a32cd" stroke="#9a32cd" stroke-width="1.333" points="1047.14,1104.69 1033.63,1100.57 1046.76,1095.36"/>
<path d="M750.81,1202.65C751.92,1202.48 752.36,1202.49 754.14,1202.14C761.78,1200.64 795.15,1192.78 814.19,1187.63C831.7,1182.89 850.5,1177.42 864.23,1172.62C874.1,1169.18 881.25,1167.28 889.25,1162.61C897.99,1157.52 905.73,1148.54 914.28,1142.6C922.43,1136.93 931.89,1132.2 939.3,1127.59C945.33,1123.83 950.14,1120.58 955.56,1117.08" fill="none" stroke="#9a32cd" stroke-width="1.333" stroke-dasharray="8,8"/>
<polygon fill="#9a32cd" stroke="#9a32cd" stroke-width="1.333" points="751.51,1207.26 737.63,1204.64 750.11,1198.03"/>
<path d="M1042.05,1159.6C1043.67,1159.35 1044.5,1159.36 1046.89,1158.86C1054.06,1157.37 1074.66,1151.4 1089.42,1147.6C1105.41,1143.49 1123.88,1139.06 1139.47,1135.09C1153.16,1131.6 1164.31,1128.57 1178,1125.09C1193.58,1121.11 1211.4,1117.07 1228.04,1112.58C1244.77,1108.06 1261.4,1102.9 1278.08,1098.07" fill="none" stroke="#ffa500" stroke-width="1.333" stroke-dasharray="8,8"/>
<polygon fill="#ffa500" stroke="#ffa500" stroke-width="1.333" points="1042.76,1164.21 1028.87,1161.61 1041.35,1154.99"/>
<path d="M1042.16,1171.51C1043.74,1171.38 1044.4,1171.33 1046.89,1171.12C1056.31,1170.31 1092.27,1166.97 1114.45,1165.12C1135.95,1163.31 1154.47,1162.8 1178,1160.11C1207.64,1156.73 1244.79,1150.92 1278.08,1145.1C1311.52,1139.25 1344.9,1132.57 1378.17,1125.09C1411.62,1117.56 1444.89,1108.41 1478.25,1100.07C1511.62,1091.73 1544.98,1083.39 1578.34,1075.05C1611.7,1066.71 1646.06,1057.96 1678.42,1050.03C1708.83,1042.58 1737.47,1035.85 1767,1028.76" fill="none" stroke="#ffa500" stroke-width="1.333" stroke-dasharray="8,8"/>
<polygon fill="#ffa500" stroke="#ffa500" stroke-width="1.333" points="1042.55,1176.16 1028.87,1172.62 1041.77,1166.86"/>
<path d="M1624.08,749.81C1625.51,751.64 1626.34,752.73 1628.38,755.31C1633.26,761.48 1644.32,774.86 1653.4,786.58C1664.75,801.23 1678.52,819.66 1690.94,836.62C1703.55,853.85 1715.96,871.28 1728.47,889.16C1741.32,907.54 1753.92,926.83 1767,945.45C1780.11,964.11 1793.7,982.48 1807.05,1000.99" fill="none" stroke="#9a32cd" stroke-width="1.333" stroke-dasharray="8,8"/>
<polygon fill="#9a32cd" stroke="#9a32cd" stroke-width="1.333" points="1620.4,752.68 1615.87,739.3 1627.76,746.93"/>
<path d="M1356.57,1064.9C1357.09,1064.53 1357.36,1064.36 1358.15,1063.79C1360.62,1062.01 1367.23,1056.73 1373.17,1052.53C1381.39,1046.71 1393.01,1039.43 1403.19,1032.52C1413.85,1025.28 1426.73,1017.11 1435.72,1010C1442.66,1004.51 1446.26,1000.39 1453.23,994.24C1463.36,985.3 1478.46,973.17 1490.77,961.71C1503.49,949.87 1517.59,937.25 1528.3,924.19C1538.17,912.15 1545.87,899.85 1553.32,886.66C1560.92,873.19 1567.51,858.68 1573.34,844.13C1579.19,829.5 1584.12,813.98 1588.35,799.09C1592.4,784.81 1595.86,767.6 1598.36,756.56C1599.95,749.54 1600.86,745.05 1602.11,739.3" fill="none" stroke="#9a32cd" stroke-width="1.333" stroke-dasharray="8,8"/>
<polygon fill="#9a32cd" stroke="#9a32cd" stroke-width="1.333" points="1359.24,1068.72 1345.64,1072.55 1353.89,1061.08"/>
<path d="M2096.1,982.99C2100.73,975.33 2102.88,971.99 2110,960C2135.1,917.75 2222,768 2278,672" fill="none" stroke="#9a32cd" stroke-width="1.333" stroke-dasharray="8,8"/>
<polygon fill="#9a32cd" stroke="#9a32cd" stroke-width="1.333" points="2100.09,985.4 2089.2,994.4 2092.11,980.58"/>
<path d="M1913.83,1014.5C1919.22,1014.5 1922.64,1014.5 1930,1014.5C1945.85,1014.5 1980,1014.5 2005,1014.5" fill="none" stroke="#9a32cd" stroke-width="1.333" stroke-dasharray="8,8"/>
<polygon fill="#9a32cd" stroke="#9a32cd" stroke-width="1.333" points="1913.83,1019.17 1900.5,1014.5 1913.83,1009.83"/>
<path d="M631.81,449.17C631.77,449.28 631.67,449.48 631.7,449.5C631.86,449.59 634.56,445.01 636.9,443.3C639.8,441.18 644.33,439.56 648.4,438.6C652.65,437.6 657.52,437.31 661.9,437.6C666.14,437.88 670.43,438.85 674.3,440.2C678.01,441.49 682.12,443.09 684.7,445.4C686.93,447.4 688.52,450.07 689.4,452.7C690.26,455.28 689.8,458.23 690,461" fill="none" stroke="#9a32cd" stroke-width="1.333" stroke-dasharray="8,8"/>
<polygon fill="#9a32cd" stroke="#9a32cd" stroke-width="1.333" points="636.47,449.03 632.2,462.5 627.14,449.31"/>
<g style="will-change:transform;filter:grayscale(1)">
<text x="24.34 31.34 34.34 41.34 45.34 52.34 59.34 66.34" y="70">uint16_t</text>
<text x="28.14 35.14 38.14 45.14 49.14 56.14 63.14" y="277">uint8_t</text>
<text x="24.34 31.34 34.34 41.34 45.34 52.34 59.34 66.34" y="650">uint32_t</text>
<text x="15.15 22.15 29.15 36.15 40.15 44.15 51.15 62.15 69.15 73.15" y="1126">ns3::empty</text>
<text x="43.86" y="1324">T</text>
<text x="267.38 274.38 281.38 288.38 292.38 296.38 303.38 310.38 317.38 324.38 328.38" y="88">ns3::TypeId</text>
<text x="239.13 246.13 253.13 260.13 264.13 268.13 277.13 284.13 291.13 298.13 305.13 309.13 320.13 327.13 331.13 338.13 345.13 352.13 356.13" y="142">ns3::PacketMetadata</text>
<text x="283.91 287.91 291.91 301.91 308.91 312.91" y="156">::Data</text>
<text x="282.04 285.04 292.04 296.04 303.04 310.04 317.04" y="517">int32_t</text>
<text x="238.33 245.33 252.33 259.33 263.33 267.33 276.33 283.33 287.33 294.33 301.33 308.33 315.33 322.33 325.33 332.33 336.33 346.33 353.33 357.33" y="568">ns3::ByteTagListData</text>
<text x="251.79 258.79 265.79 272.79 276.79 280.79 289.79 296.79 300.79 304.79 311.79 315.79 319.79 323.79 333.79 340.79 344.79" y="731">ns3::Buffer::Data</text>
<text x="233.13 240.13 247.13 254.13 258.13 262.13 271.13 278.13 282.13 286.13 293.13 297.13 301.13 305.13 312.13 319.13 326.13 333.13 336.13 345.13 349.13 356.13 360.13 363.13" y="933">ns3::Buffer::LocalStatic</text>
<text x="271.18 281.18 288.18 295.18 299.18 303.18 310.18 317.18 321.18 328.18" y="948">Destructor</text>
<text x="221.8 228.8 235.8 242.8 246.8 250.8 259.8 262.8 273.8 280.8 283.8 290.8 300.8 307.8 311.8 321.8 328.8 335.8 342.8" y="1051">ns3::SimpleRefCount</text>
<text x="221.67 229.67 233.67 239.67 243.67 247.67 254.67 263.67 273.67 282.67 292.67 298.67 302.67 306.67 316.67 325.67 332.67 341.67 349.67 358.67 368.67 372.67" y="1065">&lt; T, PARENT, DELETER &gt;</text>
<text x="255.04 262.04 266.04 273.04 277.04 281.04 288.04 295.04 302.04 306.04 313.04 317.04 325.04 329.04 337.04 341.04" y="1281">std::vector&lt; T &gt;</text>
<text x="647 654 661 668" y="288">bool</text>
<text x="635.74 642.74 645.74 652.74 656.74 663.74 670.74 677.74" y="338">uint64_t</text>
<text x="602.53 609.53 616.53 623.53 627.53 631.53 640.53 647.53 654.53 661.53 668.53 672.53 679.53 686.53 693.53 700.53 703.53 710.53" y="479">ns3::PacketTagList</text>
<text x="630.31 634.31 638.31 645.31 652.31 659.31 669.31 676.31 680.31" y="493">::TagData</text>
<text x="609.87 616.87 623.87 630.87 634.87 638.87 647.87 654.87 658.87 665.87 672.87 679.87 686.87 693.87 696.87 703.87" y="568">ns3::ByteTagList</text>
<text x="596.53 603.53 610.53 617.53 621.53 625.53 634.53 641.53 648.53 655.53 662.53 666.53 677.53 684.53 688.53 695.53 702.53 709.53 713.53" y="619">ns3::PacketMetadata</text>
<text x="617.52 621.52 625.52 635.52 642.52 646.52 653.52 661.52 665.52 672.52 679.52 686.52 689.52 696.52" y="634">::DataFreeList</text>
<text x="627.08 634.08 641.08 648.08 652.08 656.08 665.08 672.08 676.08 680.08 687.08" y="858">ns3::Buffer</text>
<text x="596.53 603.53 610.53 617.53 621.53 625.53 634.53 637.53 648.53 655.53 658.53 665.53 675.53 682.53 686.53 696.53 703.53 710.53 717.53" y="930">ns3::SimpleRefCount</text>
<text x="627.01 635.01 639.01 648.01 655.01 662.01 669.01 676.01 680.01 684.01" y="944">&lt; Packet &gt;</text>
<text x="596.53 603.53 610.53 617.53 621.53 625.53 634.53 637.53 648.53 655.53 658.53 665.53 675.53 682.53 686.53 696.53 703.53 710.53 717.53" y="1071">ns3::SimpleRefCount</text>
<text x="618.76 626.76 630.76 640.76 643.76 650.76 658.76 665.76 672.76 676.76 683.76 687.76 691.76" y="1085">&lt; NixVector &gt;</text>
<text x="593.22 600.22 604.22 611.22 615.22 619.22 626.22 633.22 640.22 644.22 651.22 655.22 663.22 667.22 674.22 677.22 684.22 688.22 695.22 702.22 709.22 713.22 717.22" y="1217">std::vector&lt; uint32_t &gt;</text>
<text x="915.88 922.88 929.88 936.88 940.88 944.88 953.88 960.88 967.88 974.88 981.88 985.88 996.88 1003.88 1007.88 1014.88 1021.88 1028.88 1032.88" y="338">ns3::PacketMetadata</text>
<text x="934.63 941.63 948.63 955.63 959.63 963.63 973.63 976.63 983.63 991.63 998.63 1005.63 1009.63 1016.63" y="1107">ns3::NixVector</text>
<text x="939.03 946.03 953.03 960.03 964.03 968.03 977.03 981.03 985.03 993.03 997.03 1005.03 1009.03" y="1178">ns3::Ptr&lt; T &gt;</text>
<text x="1086.05 1093.05 1100.05 1107.05 1111.05 1115.05 1124.05 1131.05 1138.05 1145.05 1152.05 1156.05 1163.05 1170.05 1177.05 1184.05 1187.05 1194.05" y="512">ns3::PacketTagList</text>
<text x="1245.19 1252.19 1259.19 1266.19 1270.19 1274.19 1283.19 1287.19 1291.19 1299.19 1303.19 1310.19 1317.19 1324.19 1328.19 1332.19 1342.19 1345.19 1352.19 1360.19 1367.19 1374.19 1378.19 1385.19 1389.19 1393.19" y="1089">ns3::Ptr&lt; ns3::NixVector &gt;</text>
<text x="1570.18 1577.18 1584.18 1591.18 1595.18 1599.18 1608.18 1615.18 1622.18 1629.18 1636.18" y="730">ns3::Packet</text>
<text x="1747.75 1754.75 1761.75 1768.75 1772.75 1776.75 1785.75 1789.75 1793.75 1801.75 1805.75 1812.75 1819.75 1826.75 1830.75 1834.75 1843.75 1850.75 1857.75 1864.75 1871.75 1875.75 1879.75" y="1018">ns3::Ptr&lt; ns3::Packet &gt;</text>
<text x="2015.43 2022.43 2026.43 2033.43 2037.43 2041.43 2048.43 2055.43 2062.43 2066.43 2073.43 2077.43 2085.43 2089.43 2096.43 2103.43 2110.43 2114.43 2118.43 2127.43 2131.43" y="1011">std::vector&lt; ns3::Ptr</text>
<text x="2023.56 2031.56 2035.56 2042.56 2049.56 2056.56 2060.56 2064.56 2073.56 2080.56 2087.56 2094.56 2101.56 2105.56 2109.56 2117.56 2121.56" y="1025">&lt; ns3::Packet &gt; &gt;</text>
<text x="2235.55 2242.55 2249.55 2256.55 2260.55 2264.55 2273.55 2280.55 2287.55 2294.55 2297.55 2304.55 2311.55 2321.55 2328.55 2332.55" y="662">ns3::PendingData</text>
<text x="137.72 148.72 155.72 159.72 162.72" y="68">m_tid</text>
<text x="120.52 131.52 138.52 145.52 148.52 152.52 156.52 163.52 172.52 179.52" y="92">m_dirtyEnd</text>
<text x="130.74 141.74 148.74 155.74 158.74 165.74" y="106">m_size</text>
<text x="132.01 143.01 150.01 157.01 164.01 168.01" y="168">m_data</text>
<text x="128.59 139.59 146.59 153.59 160.59 167.59 174.59" y="217">m_count</text>
<text x="141.14 148.14 155.14 159.14" y="297">data</text>
<text x="132.01 143.01 150.01 157.01 164.01 168.01" y="376">m_data</text>
<text x="137.72 144.72 151.72 158.72 165.72" y="543">count</text>
<text x="139.25 146.25 149.25 153.25 157.25" y="558">dirty</text>
<text x="139.87 146.87 149.87 156.87" y="572">size</text>
<text x="128.59 139.59 146.59 153.59 160.59 167.59 174.59" y="707">m_count</text>
<text x="118.44 129.44 136.44 143.44 146.44 150.44 154.44 161.44 170.44 177.44" y="721">m_dirtyEnd</text>
<text x="116.08 127.08 134.08 141.08 144.08 148.08 152.08 159.08 168.08 172.08 179.08 183.08" y="736">m_dirtyStart</text>
<text x="130.74 141.74 148.74 155.74 158.74 165.74" y="751">m_size</text>
<text x="128.59 139.59 146.59 153.59 160.59 167.59 174.59" y="897">m_count</text>
<text x="127.1 134.1 137.1 144.1 155.1 162.1 169.1 173.1" y="1293">elements</text>
<text x="291.94 298.94 305.94 309.94" y="236">data</text>
<text x="288.52 295.52 302.52 309.52 316.52" y="448">count</text>
<text x="290.67 297.67 300.67 307.67" y="463">size</text>
<text x="281.32 292.32 299.32 306.32 313.32 320.32" y="600">m_used</text>
<text x="271.93 278.93 285.93 296.93 303.93 310.93 319.93 322.93 329.93" y="764">g_maxSize</text>
<text x="239.55 246.55 253.55 257.55 264.55 271.55 278.55 289.55 300.55 307.55 314.55 321.55 328.55 335.55 344.55 348.55 355.55 359.55" y="778">g_recommendedStart</text>
<text x="282.66 293.66 300.66 307.66 314.66" y="793">m_end</text>
<text x="239.74 250.74 257.74 268.74 275.74 282.74 290.74 297.74 301.74 308.74 317.74 321.74 328.74 335.74 344.74 348.74 355.74 359.74" y="808">m_maxZeroAreaStart</text>
<text x="280.49 291.49 298.49 305.49 309.49 316.49 320.49" y="822">m_start</text>
<text x="255.26 266.26 273.26 280.26 287.26 291.26 298.26 307.26 311.26 318.26 325.26 334.26 341.26" y="837">m_zeroAreaEnd</text>
<text x="252.9 263.9 270.9 277.9 284.9 288.9 295.9 304.9 308.9 315.9 322.9 331.9 335.9 342.9 346.9" y="852">m_zeroAreaStart</text>
<text x="277.9 284.9 287.9 294.9 305.9 312.9 319.9 323.9" y="1156">elements</text>
<text x="453.2 464.2 471.2 478.2 485.2 492.2 499.2 506.2 516.2 519.2" y="16">m_chunkUid</text>
<text x="464.35 475.35 482.35 489.35 496.35 503.35" y="30">m_head</text>
<text x="470.26 481.26 488.26 492.26 499.26 502.26" y="45">m_tail</text>
<text x="464.54 475.54 482.54 489.54 496.54 503.54" y="60">m_used</text>
<text x="482.95 486.95 489.95" y="123">tid</text>
<text x="455.31 466.31 473.31 484.31 491.31 498.31 507.31 510.31 517.31" y="377">m_maxSize</text>
<text x="448.54 459.54 466.54 473.54 480.54 483.54 490.54 497.54 501.54 512.54 519.54 526.54" y="492">m_adjustment</text>
<text x="454.54 465.54 472.54 483.54 490.54 497.54 506.54 513.54" y="507">m_maxEnd</text>
<text x="454.11 465.11 472.11 483.11 486.11 493.11 502.11 506.11 513.11 517.11" y="521">m_minStart</text>
<text x="468.11 479.11 486.11 493.11 500.11 504.11" y="560">m_data</text>
<text x="468.11 479.11 486.11 493.11 500.11 504.11" y="764">m_data</text>
<text x="421.7 428.7 435.7 438.7 445.7 452.7 459.7 462.7 471.7 475.7 482.7 486.7 489.7 496.7 506.7 513.7 520.7 524.7 528.7 535.7 542.7 546.7 553.7" y="884">g_localStaticDestructor</text>
<text x="461.09 468.09 475.09 479.09 483.09 490.09 497.09 504.09 507.09 514.09" y="933">g_freeList</text>
<text x="457.79 465.79 469.79 478.79 485.79 492.79 499.79 506.79 510.79 514.79" y="1008">&lt; Packet &gt;</text>
<text x="449.53 457.53 461.53 471.53 474.53 481.53 489.53 496.53 503.53 507.53 514.53 518.53 522.53" y="1056">&lt; NixVector &gt;</text>
<text x="463.01 474.01 481.01 488.01 495.01 502.01 509.01" y="1092">m_epoch</text>
<text x="445.34 456.34 463.34 467.34 474.34 478.34 485.34 488.34 497.34 500.34 504.34 513.34 516.34 523.34" y="1106">m_totalBitSize</text>
<text x="464.54 475.54 482.54 489.54 496.54 503.54" y="1121">m_used</text>
<text x="454.87 462.87 466.87 473.87 476.87 483.87 487.87 494.87 501.87 508.87 512.87 516.87" y="1243">&lt; uint32_t &gt;</text>
<text x="473.2 484.2 491.2 498.2 502.2" y="1321">m_ptr</text>
<text x="640.21 651.21 658.21 665.21 672.21 676.21" y="211">m_data</text>
<text x="795.03 806.03 813.03 820.03 827.03 834.03 841.03 844.03" y="265">m_enable</text>
<text x="765.31 776.31 783.31 790.31 797.31 804.31 811.31 814.31 821.31 831.31 838.31 845.31 852.31 859.31 862.31 869.31" y="280">m_enableChecking</text>
<text x="761.28 772.28 779.28 790.28 797.28 801.28 808.28 815.28 822.28 826.28 833.28 842.28 849.28 852.28 859.28 866.28 873.28" y="295">m_metadataSkipped</text>
<text x="784.97 795.97 802.97 809.97 816.97 823.97 830.97 837.97 841.97 851.97 854.97" y="331">m_packetUid</text>
<text x="801.99 812.99 819.99 826.99 833.99 840.99" y="484">m_next</text>
<text x="792.86 803.86 810.86 814.86 818.86 825.86 832.86 839.86 842.86 849.86" y="537">m_freeList</text>
<text x="787.15 798.15 805.15 812.15 815.15 822.15 829.15 836.15 839.15 849.15 852.15" y="679">m_globalUid</text>
<text x="787.15 798.15 805.15 812.15 815.15 822.15 830.15 837.15 844.15 848.15 855.15" y="1163">m_nixVector</text>
<text x="1119.47 1130.47 1137.47 1144.47 1151.47 1155.47 1159.47 1166.47" y="776">m_buffer</text>
<text x="1128.6 1139.6 1146.6 1153.6 1157.6" y="1087">m_ptr</text>
<text x="1090.45 1098.45 1102.45 1109.45 1116.45 1123.45 1127.45 1131.45 1141.45 1144.45 1151.45 1159.45 1166.45 1173.45 1177.45 1184.45 1188.45 1192.45" y="1113">&lt; ns3::NixVector &gt;</text>
<text x="1300.44 1311.44 1318.44 1325.44 1334.44 1337.44 1344.44" y="111">msgSize</text>
<text x="1283.95 1287.95 1294.95 1301.95 1308.95 1315.95 1322.95 1329.95 1336.95 1345.95 1348.95 1355.95" y="126">responseSize</text>
<text x="1311.97 1318.97 1321.97 1328.97" y="140">size</text>
<text x="1289.45 1300.45 1307.45 1318.45 1325.45 1329.45 1336.45 1343.45 1350.45 1354.45" y="381">m_metadata</text>
<text x="1275.84 1286.84 1293.84 1300.84 1307.84 1314.84 1321.84 1328.84 1332.84 1339.84 1346.84 1353.84 1360.84 1363.84 1370.84" y="505">m_packetTagList</text>
<text x="1102.26 1113.26 1120.26 1127.26 1134.26 1138.26 1145.26 1152.26 1159.26 1166.26 1173.26 1176.26 1183.26" y="611">m_byteTagList</text>
<text x="1244.58 1252.58 1256.58 1263.58 1270.58 1277.58 1281.58 1285.58 1294.58 1298.58 1302.58 1310.58 1314.58 1321.58 1328.58 1335.58 1339.58 1343.58 1352.58 1359.58 1366.58 1373.58 1380.58 1384.58 1388.58 1396.58 1400.58" y="1288">&lt; ns3::Ptr&lt; ns3::Packet &gt; &gt;</text>
<text x="1452.25 1463.25 1470.25 1477.25 1480.25 1487.25 1495.25 1502.25 1509.25 1513.25 1520.25" y="905">m_nixVector</text>
<text x="1442.11 1450.11 1454.11 1461.11 1468.11 1475.11 1479.11 1483.11 1492.11 1499.11 1506.11 1513.11 1520.11 1524.11 1528.11" y="1087">&lt; ns3::Packet &gt;</text>
<text x="1680 1691 1698 1705 1709" y="824">m_ptr</text>
<text x="1927.9 1934.9 1937.9 1944.9 1955.9 1962.9 1969.9 1973.9" y="1010">elements</text>
<text x="2175.94 2182.94 2189.94 2193.94" y="811">data</text>
<text x="649.32 656.32 663.32 670.32" y="433">next</text>
</g>
</svg></body></html>
